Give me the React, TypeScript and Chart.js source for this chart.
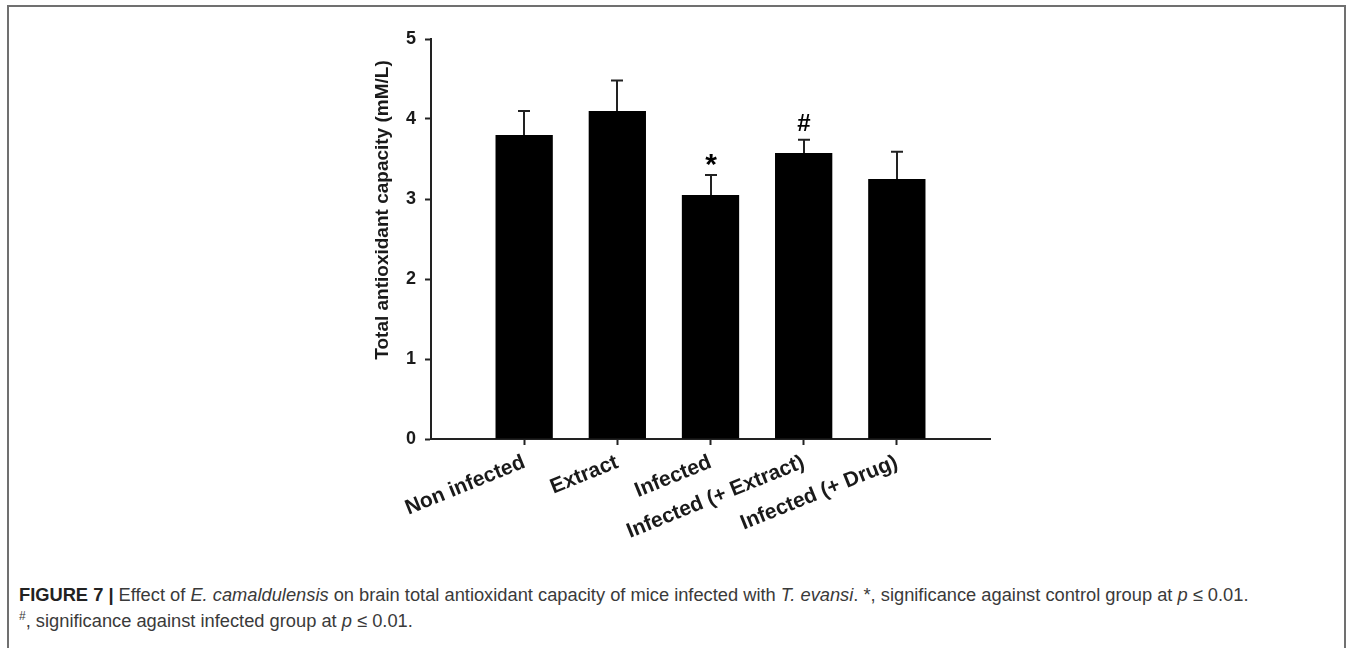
import { useEffect, useRef } from 'react';
import { Chart, registerables } from 'chart.js';

Chart.register(...registerables);

// Groups, mean total antioxidant capacity (mM/L) and error (SEM)
const groups = ['Non infected', 'Extract', 'Infected', 'Infected (+ Extract)', 'Infected (+ Drug)'];
const means = [3.8, 4.1, 3.05, 3.575, 3.25];
const errors = [0.3, 0.38, 0.25, 0.165, 0.34];
// Significance markers: * vs control, # vs infected
const marks = ['', '', '*', '#', ''];
const yTicks = [0, 1, 2, 3, 4, 5];
const yTitle = 'Total antioxidant capacity (mM/L)';

// Empty slots at both ends so the bars sit one step in from each axis end
const axisLabels = ['', ...groups, ''];
const axisValues = [null, ...means, null];

const FONT = '"Liberation Sans", Arial, sans-serif';
const INK = '#1a1a1a';

const errorBarPlugin = {
  id: 'errorBars',
  afterDatasetsDraw(chart: any) {
    const { ctx } = chart;
    const yScale = chart.scales.y;
    const meta = chart.getDatasetMeta(0);
    ctx.save();
    ctx.strokeStyle = '#222';
    ctx.lineWidth = 2;
    means.forEach((m, i) => {
      const bar = meta.data[i + 1];
      const x = Math.round(bar.x);
      const yBar = yScale.getPixelForValue(m);
      const yTop = yScale.getPixelForValue(m + errors[i]);
      ctx.beginPath();
      ctx.moveTo(x, yBar);
      ctx.lineTo(x, yTop);
      ctx.moveTo(x - 6, yTop);
      ctx.lineTo(x + 6, yTop);
      ctx.stroke();
      const mark = marks[i];
      if (mark) {
        const size = mark === '*' ? 30 : 24;
        ctx.font = `bold ${size}px ${FONT}`;
        ctx.fillStyle = '#000';
        ctx.textAlign = 'center';
        ctx.textBaseline = 'alphabetic';
        const mt = ctx.measureText(mark);
        ctx.fillText(mark, x, yTop - 9 - mt.actualBoundingBoxDescent);
      }
    });
    ctx.restore();
  },
};

// Vertical axis title, set a little above the middle of the value axis
const axisTitlePlugin = {
  id: 'axisTitle',
  afterDraw(chart: any) {
    const { ctx, chartArea } = chart;
    ctx.save();
    ctx.translate(chartArea.left - 48, (chartArea.top + chartArea.bottom) / 2 - 29);
    ctx.rotate(-Math.PI / 2);
    ctx.font = `bold 19px ${FONT}`;
    ctx.fillStyle = INK;
    ctx.textAlign = 'center';
    ctx.textBaseline = 'middle';
    ctx.fillText(yTitle, 0, 0);
    ctx.restore();
  },
};

function BarChart() {
  const ref = useRef<HTMLCanvasElement>(null);
  useEffect(() => {
    if (!ref.current) return;
    const chart = new Chart(ref.current, {
      type: 'bar',
      data: {
        labels: axisLabels,
        datasets: [
          {
            data: axisValues as any,
            backgroundColor: '#000',
            borderWidth: 0,
            barPercentage: 1,
            categoryPercentage: 0.615,
          },
        ],
      },
      options: {
        responsive: false,
        animation: false,
        devicePixelRatio: 1,
        layout: { padding: { left: 331, right: 368, top: 39, bottom: 0 } },
        plugins: { legend: { display: false }, tooltip: { enabled: false } },
        scales: {
          x: {
            offset: false,
            ticks: {
              autoSkip: false,
              minRotation: 22,
              maxRotation: 22,
              padding: 5,
              color: INK,
              font: { family: FONT, size: 21, weight: 'bold' },
            },
            grid: {
              offset: false,
              drawOnChartArea: false,
              tickLength: 6,
              tickWidth: 2,
              tickColor: (c: any) =>
                c.index === 0 || c.index === axisLabels.length - 1 ? 'rgba(0,0,0,0)' : '#222',
            },
            border: { color: '#222', width: 2 },
            afterFit: (s: any) => {
              s.height = 121;
            },
          },
          y: {
            min: 0,
            max: 5,
            afterBuildTicks: (s: any) => {
              s.ticks = yTicks.map((v) => ({ value: v }));
            },
            ticks: {
              padding: 9,
              color: INK,
              font: { family: FONT, size: 18, weight: 'bold' },
            },
            grid: { drawOnChartArea: false, tickLength: 6, tickWidth: 2, tickColor: '#222' },
            border: { color: '#222', width: 2 },
            afterFit: (s: any) => {
              s.width = 100;
            },
          },
        },
      },
      plugins: [errorBarPlugin, axisTitlePlugin],
    });
    return () => chart.destroy();
  }, []);
  return (
    <canvas
      ref={ref}
      width={1358}
      height={560}
      style={{ position: 'absolute', left: 0, top: 0, width: 1358, height: 560 }}
    />
  );
}

export default function App() {
  return (
    <div
      style={{
        position: 'absolute',
        left: 0,
        top: 0,
        width: 1358,
        height: 648,
        overflow: 'hidden',
        background: '#fff',
      }}
    >
      <div
        style={{
          position: 'absolute',
          left: 7,
          top: 5,
          width: 1335,
          height: 700,
          border: '2px solid #707070',
        }}
      />
      <BarChart />
      <div
        style={{
          position: 'absolute',
          left: 19,
          top: 582,
          font: '18.3px "Liberation Sans", sans-serif',
          color: '#3a3a3a',
          lineHeight: '26px',
          whiteSpace: 'nowrap',
        }}
      >
        <b style={{ color: '#222' }}>FIGURE 7 |</b> Effect of <i>E. camaldulensis</i> on brain total
        antioxidant capacity of mice infected with <i>T. evansi</i>. *, significance against control
        group at <i>p</i> ≤ 0.01.
        <br />
        <sup style={{ fontSize: 12, lineHeight: 0 }}>#</sup>, significance against infected group at{' '}
        <i>p</i> ≤ 0.01.
      </div>
    </div>
  );
}
